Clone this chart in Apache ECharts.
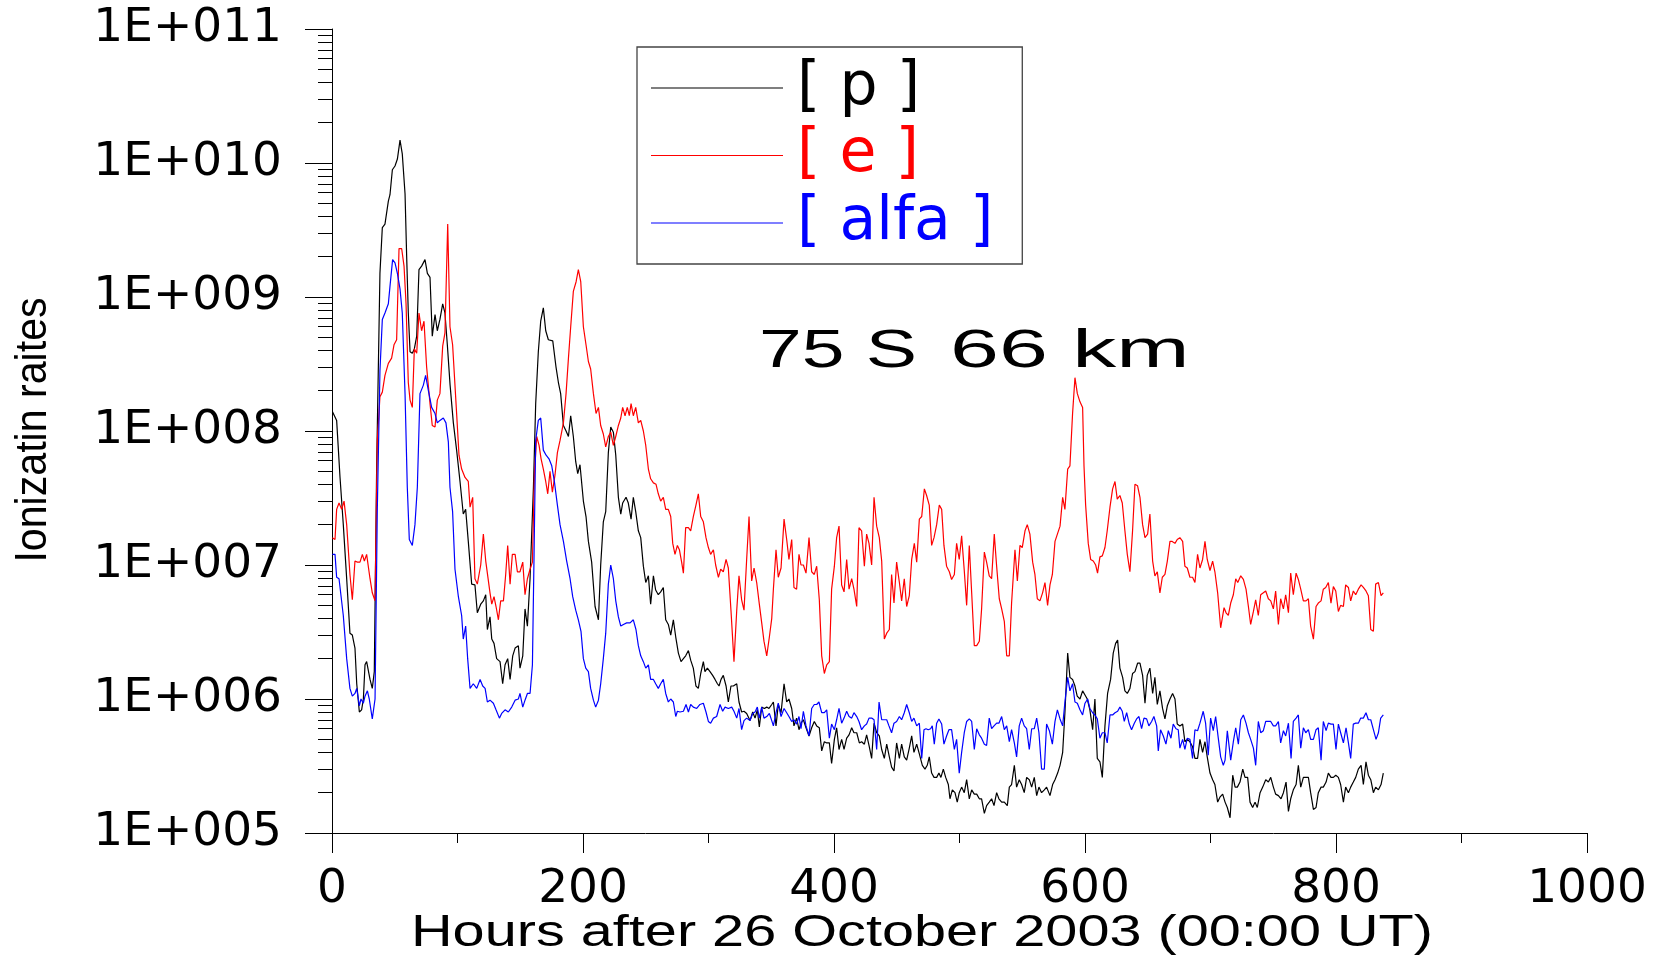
<!DOCTYPE html>
<html>
<head>
<meta charset="utf-8">
<title>Ionization rates, 75 S, 66 km</title>
<script src="https://cdn.jsdelivr.net/npm/echarts@6/dist/echarts.min.js"></script>
<style>
  html, body { margin: 0; padding: 0; background: #fff; }
  #chart { width: 1658px; height: 956px; }
</style>
</head>
<body>
<div id="chart"></div>
<script>
// Axis tick labels
const xTickLabels = ['0', '200', '400', '600', '800', '1000'];
const yTickLabels = ['1E+005', '1E+006', '1E+007', '1E+008', '1E+009', '1E+010', '1E+011'];
const seriesNames = ['[ p ]', '[ e ]', '[ alfa ]'];

// [hours after 26 Oct 2003 00:00 UT, ionization rate] for protons
const protonRates = [
  [0.3,1.4e8],[3.7,1.2e8],[6.4,4.5e7],[9,2.0e7],[11.7,7.9e6],[14.3,3.1e6],[16.2,3.0e6],[18.3,2.4e6],
  [19.7,1.3e6],[21.8,8.0e5],[23.6,8.3e5],[25,1.0e6],[26.3,1.8e6],[27.6,1.9e6],[30.3,1.4e6],[32.1,1.2e6],
  [33.7,1.6e6],[35.6,5.6e7],[38.2,1.5e9],[40.1,3.3e9],[42.2,3.5e9],[44.9,5.2e9],[46.2,5.8e9],[48.1,8.9e9],
  [50.2,9.5e9],[52.1,1.07e10],[54.2,1.48e10],[56,1.17e10],[58.2,5.9e9],[59.5,2.0e9],[60.8,7.6e8],[62.2,3.9e8],
  [64,3.8e8],[65.6,4.1e8],[67.5,5.1e8],[69.3,1.6e9],[71.4,1.7e9],[74.1,1.9e9],[76,1.5e9],[78.1,1.4e9],
  [79.9,5.1e8],[82.1,7.4e8],[83.9,5.6e8],[86,6.8e8],[88.2,8.9e8],[90,7.6e8],[91.9,4.4e8],[94.1,2.2e8],
  [96.7,1.15e8],[99.3,7.2e7],[102,4.2e7],[104.6,2.4e7],[106.5,2.6e7],[108.6,1.5e7],[111.3,7.2e6],[113.9,7.1e6],
  [115.8,4.4e6],[118.5,5.1e6],[120.6,5.4e6],[122.5,6.0e6],[123.8,3.3e6],[125.9,4.1e6],[127.3,2.8e6],[129.1,2.6e6],
  [131.2,2.0e6],[133.9,1.9e6],[136,1.3e6],[137.9,1.8e6],[140,2.0e6],[141.9,1.4e6],[144,2.1e6],[145.9,2.4e6],
  [148.5,2.5e6],[149.8,1.7e6],[152,2.1e6],[153.8,4.7e6],[155.7,3.5e6],[157.8,7.9e6],[160.5,3.8e7],[162.3,1.6e8],
  [164.4,3.9e8],[166.3,6.6e8],[168.4,8.3e8],[170.3,5.6e8],[172.4,4.8e8],[175.9,4.7e8],[178.5,3.0e8],[180.4,2.3e8],
  [182.2,1.9e8],[184.4,1.1e8],[186.5,1.0e8],[188.4,9.1e7],[190.2,1.3e8],[192.3,9.1e7],[194.2,5.9e7],[195.8,4.8e7],
  [197.6,5.6e7],[200.3,3.0e7],[202.4,2.3e7],[204.3,1.5e7],[206.9,1.05e7],[209.6,4.9e6],[212.3,3.9e6],[214.1,1.0e7],
  [216.2,2.1e7],[218.1,2.5e7],[220.2,6.9e7],[222.1,1.07e8],[224.2,9.8e7],[226.1,6.6e7],[228.2,3.2e7],[230.1,2.4e7],
  [231.6,2.9e7],[234.3,3.2e7],[236.1,2.9e7],[238.3,2.2e7],[240.1,3.2e7],[242,2.5e7],[244.1,1.8e7],[246,1.6e7],
  [248.1,9.8e6],[250,7.4e6],[252.1,8.3e6],[253.9,5.1e6],[256.1,8.3e6],[257.9,6.5e6],[260,6.0e6],[261.9,6.3e6],
  [264,6.8e6],[265.9,3.9e6],[268,3.6e6],[269.9,3.0e6],[272,3.9e6],[273.9,2.9e6],[276,2.2e6],[278.1,1.9e6],
  [280,2.0e6],[281.8,2.1e6],[284,2.3e6],[285.8,1.95e6],[287.9,1.7e6],[290,1.25e6],[291.9,1.2e6],[293.8,1.55e6],
  [295.9,1.9e6],[297.2,1.6e6],[299.1,1.7e6],[301.2,1.6e6],[303.3,1.5e6],[305.2,1.4e6],[307.1,1.3e6],[308.4,1.25e6],
  [310,1.4e6],[311.8,1.5e6],[314,1.25e6],[315.8,9.5e5],[317.9,1.25e6],[319.8,1.25e6],[322.5,1.3e6],[324.3,9.5e5],
  [326.4,8.0e5],[328.3,8.1e5],[330.4,7.8e5],[333.1,6.9e5],[335.2,8.0e5],[337.1,7.2e5],[338.9,8.3e5],[340.5,6.2e5],
  [342.4,8.7e5],[344.5,8.5e5],[346.4,8.7e5],[348.2,8.5e5],[350.4,9.1e5],[351.7,9.5e5],[353.8,6.3e5],[355.6,9.1e5],
  [357.8,7.9e5],[360.2,1.3e6],[362.3,9.5e5],[364.1,1.0e6],[366.3,8.5e5],[368.1,6.3e5],[370.2,7.2e5],[372.1,5.9e5],
  [373.7,6.6e5],[375.6,7.0e5],[377.7,6.1e5],[380.1,5.3e5],[382.2,6.1e5],[384.3,6.8e5],[386.2,6.3e5],[388.3,6.1e5],
  [390.2,4.1e5],[392.3,4.8e5],[394.2,4.7e5],[396.3,4.7e5],[398.1,3.3e5],[400.3,5.0e5],[402.1,6.1e5],[404,4.2e5],
  [406.1,5.0e5],[408,4.2e5],[410.1,5.1e5],[412,5.4e5],[414.1,6.1e5],[415.9,5.6e5],[418.1,5.6e5],[420.2,4.7e5],
  [422,4.8e5],[424.2,4.6e5],[426,5.4e5],[427.9,4.5e5],[430,3.6e5],[431.9,6.6e5],[434,5.6e5],[436.1,5.3e5],
  [438,4.2e5],[440.1,3.6e5],[442,4.6e5],[444.1,3.7e5],[445.9,3.1e5],[447.8,2.9e5],[449.9,4.7e5],[452.1,3.6e5],
  [453.9,4.6e5],[456,3.7e5],[457.9,3.5e5],[460,4.3e5],[461.9,5.3e5],[463.7,4.0e5],[465.9,4.6e5],[468,3.9e5],
  [470.4,3.2e5],[472.5,3.0e5],[474.3,3.2e5],[475.9,3.7e5],[477.8,2.8e5],[479.7,2.6e5],[481.8,2.6e5],[483.6,2.8e5],
  [485.2,2.6e5],[487.1,3.0e5],[489,2.6e5],[491.1,2.3e5],[492.4,1.8e5],[494.3,2.1e5],[496.4,2.0e5],[498.2,1.7e5],
  [499.8,2.0e5],[501.7,2.2e5],[503.8,2.0e5],[505.7,2.5e5],[507.8,1.8e5],[509.7,2.1e5],[511.8,1.95e5],[513.7,1.95e5],
  [515.8,1.8e5],[517.6,1.8e5],[519.8,1.4e5],[521.6,1.6e5],[523.7,1.7e5],[525.6,1.8e5],[527.5,1.6e5],[529.6,2.0e5],
  [531.4,1.8e5],[533.6,1.7e5],[535.7,1.7e5],[538.1,1.6e5],[539.7,2.2e5],[541.5,2.3e5],[543.7,3.2e5],[545.5,2.2e5],
  [547.6,2.5e5],[549.5,2.3e5],[551.6,2.0e5],[553.5,2.6e5],[555.6,2.5e5],[557.5,2.2e5],[559.6,2.6e5],[561.5,1.9e5],
  [563.3,2.2e5],[565.4,2.0e5],[567.6,2.1e5],[569.4,2.2e5],[572.1,1.9e5],[574.2,2.3e5],[576.1,2.5e5],[578.2,2.8e5],
  [580.1,3.2e5],[582.2,4.0e5],[584,7.9e5],[586.2,2.2e6],[588,1.45e6],[590.1,1.4e6],[592,1.25e6],[593.8,1.05e6],
  [596,1.0e6],[598.1,1.15e6],[600,1.07e6],[601.8,1.0e6],[603.9,8.3e5],[606.1,5.9e5],[607.9,1.0e6],[609.8,3.6e5],
  [611.9,3.4e5],[613.8,2.6e5],[615.9,6.3e5],[618,1.1e6],[620.4,1.4e6],[622.5,2.2e6],[624.4,2.6e6],[626,2.75e6],
  [627.8,1.7e6],[630,1.45e6],[631.8,1.15e6],[633.7,1.1e6],[635.8,1.2e6],[637.9,1.55e6],[639.8,1.6e6],[641.9,1.85e6],
  [643.8,1.85e6],[645.9,1.5e6],[647.8,9.3e5],[649.6,1.5e6],[651.7,1.7e6],[653.9,1.1e6],[655.7,1.45e6],[657.6,9.1e5],
  [659.7,1.15e6],[661.8,8.5e5],[663.7,7.1e5],[665.6,8.9e5],[667.7,1.0e6],[669.8,1.1e6],[671.7,1.0e6],[673.5,6.5e5],
  [675.6,6.3e5],[677.8,6.5e5],[679.6,4.8e5],[681.5,5.0e5],[683.6,4.8e5],[685.7,4.4e5],[687.6,3.6e5],[689.7,3.6e5],
  [691.6,5.0e5],[693.7,4.0e5],[695.6,4.8e5],[697.4,3.7e5],[699.6,2.8e5],[701.7,2.5e5],[703.5,2.3e5],[705.7,1.7e5],
  [707.5,1.85e5],[709.7,1.95e5],[711.6,1.7e5],[713.4,1.55e5],[715.6,1.3e5],[717.7,2.7e5],[719.6,2.2e5],[721.4,2.2e5],
  [723.5,2.4e5],[725.7,3.0e5],[727.5,2.6e5],[729.6,2.6e5],[731.5,1.7e5],[733.6,1.55e5],[735.5,1.7e5],[737.3,1.55e5],
  [739.5,2.0e5],[741.6,2.2e5],[744,2.5e5],[746.1,2.4e5],[748,2.6e5],[750.1,2.2e5],[751.9,1.95e5],[754.1,1.9e5],
  [756.2,1.8e5],[758.1,2.0e5],[760.2,2.4e5],[762.1,1.45e5],[763.9,1.8e5],[766,2.1e5],[768.2,2.3e5],[770,3.2e5],
  [771.9,2.2e5],[774,2.6e5],[775.9,2.6e5],[778,2.6e5],[779.8,2.0e5],[782,1.5e5],[784.1,1.55e5],[785.9,2.0e5],
  [788.1,2.2e5],[789.9,2.2e5],[792.1,2.4e5],[793.9,2.8e5],[796,2.6e5],[797.9,2.6e5],[799.8,2.7e5],[801.9,2.6e5],
  [803.7,2.3e5],[805.9,1.7e5],[807.7,2.2e5],[809.9,2.0e5],[811.7,2.2e5],[813.8,2.4e5],[815.7,2.6e5],[817.8,3.0e5],
  [820,3.2e5],[821.8,2.3e5],[823.9,3.4e5],[825.8,2.7e5],[827.7,2.5e5],[829.8,2.0e5],[831.6,2.2e5],[833.8,2.1e5],
  [835.9,2.3e5],[837.7,2.8e5]
];

// Electrons
const electronRates = [
  [0.3,1.6e7],[2.4,1.55e7],[3.7,2.6e7],[5.6,2.9e7],[7.7,2.6e7],[9.6,3.0e7],[11.7,2.0e7],[14.3,8.5e6],
  [16.2,5.5e6],[18.3,1.07e7],[20.2,1.05e7],[22.3,1.05e7],[24.2,1.2e7],[25.8,1.07e7],[27.6,1.2e7],[30.3,7.9e6],
  [32.1,6.2e6],[34.3,5.4e6],[36.1,8.5e7],[38.2,1.8e8],[40.1,1.95e8],[42.2,2.6e8],[44.9,3.2e8],[47.5,3.5e8],
  [49.4,4.4e8],[51.5,4.8e8],[53.4,2.3e9],[55.5,2.3e9],[57.4,1.7e9],[59,8.9e8],[60.8,2.3e8],[62.2,1.7e8],
  [64,1.5e8],[65.6,4.1e8],[67.5,3.8e8],[69.3,7.6e8],[71.4,5.6e8],[73.3,6.6e8],[75.4,3.0e8],[78.1,1.6e8],
  [79.9,1.1e8],[82.1,1.07e8],[83.9,1.7e8],[86,1.9e8],[88.2,4.3e8],[90,5.4e8],[92.2,3.5e9],[94,6.0e8],
  [96.1,4.4e8],[99.3,1.35e8],[101.2,6.6e7],[103.3,5.2e7],[106,4.5e7],[108.6,4.2e7],[110,2.7e7],[112.1,3.2e7],
  [113.9,7.9e6],[115.8,7.2e6],[118.5,1.0e7],[120.6,1.7e7],[122.5,1.07e7],[125.9,6.2e6],[127.3,5.1e6],[129.1,5.8e6],
  [130.7,4.9e6],[132.6,3.9e6],[134.4,5.4e6],[136.6,5.4e6],[138.4,8.5e6],[140,1.4e7],[141.9,7.2e6],[143.7,1.2e7],
  [145.9,1.2e7],[147.7,8.9e6],[149.8,8.9e6],[152,1.05e7],[153.8,6.0e6],[155.7,7.9e6],[157.8,9.3e6],[159.7,1.05e7],
  [161.3,4.8e7],[163.1,9.1e7],[165,7.8e7],[166.6,6.2e7],[168.4,5.2e7],[170.3,4.2e7],[171.9,3.4e7],[173.7,5.0e7],
  [175.6,3.5e7],[177.7,4.7e7],[179.6,6.9e7],[181.7,8.5e7],[184.4,1.15e8],[186.5,1.9e8],[188.4,3.5e8],[190.2,6.0e8],
  [192.3,1.1e9],[194.5,1.3e9],[196.3,1.6e9],[198.2,1.3e9],[200.3,6.0e8],[202.4,4.4e8],[204.3,3.3e8],[206.1,2.9e8],
  [208.3,1.9e8],[210.4,1.35e8],[212.3,1.5e8],[214.1,1.1e8],[216.2,9.5e7],[218.1,7.6e7],[220.2,9.1e7],[222.1,9.8e7],
  [224.2,7.8e7],[226.1,9.1e7],[228.2,1.1e8],[230.1,1.25e8],[231.6,1.5e8],[233.5,1.3e8],[235.3,1.5e8],[236.9,1.3e8],
  [238.3,1.6e8],[240.1,1.3e8],[242,1.5e8],[244.1,1.15e8],[246,1.2e8],[248.1,1.0e8],[250,7.8e7],[252.1,5.2e7],
  [253.9,4.4e7],[256.1,4.1e7],[258.2,4.0e7],[260,3.4e7],[261.9,3.0e7],[264,3.2e7],[265.9,2.6e7],[268,2.6e7],
  [269.9,2.3e7],[271.5,1.45e7],[273.3,1.2e7],[275.2,1.4e7],[276.8,1.3e7],[278.6,1.05e7],[280,8.7e6],[281.8,1.9e7],
  [284,1.9e7],[285.8,1.8e7],[287.9,2.3e7],[290,2.8e7],[291.9,3.4e7],[293.8,2.3e7],[295.9,2.1e7],[298,1.6e7],
  [299.9,1.35e7],[301.7,1.2e7],[303.9,1.3e7],[305.7,1.0e7],[307.9,8.1e6],[309.7,9.3e6],[311.8,8.9e6],[314,1.1e7],
  [315.8,9.5e6],[317.9,4.6e6],[320.3,1.9e6],[322.5,4.6e6],[324.3,8.3e6],[326.4,5.5e6],[328.3,4.6e6],[330.4,1.1e7],
  [332.3,2.3e7],[334.4,7.6e6],[336.3,9.5e6],[338.4,7.4e6],[340.5,5.1e6],[342.4,3.7e6],[344.2,2.7e6],[346.4,2.1e6],
  [348.5,2.9e6],[350.4,4.0e6],[351.7,6.6e6],[353.8,1.3e7],[355.6,8.1e6],[357.8,9.5e6],[360.2,2.2e7],[362.3,1.55e7],
  [364.1,1.1e7],[366.3,1.55e7],[368.1,6.8e6],[370.2,6.6e6],[372.1,1.2e7],[373.7,1.0e7],[375.6,1.0e7],[377.7,8.7e6],
  [380.1,1.6e7],[382.2,8.9e6],[384.3,8.5e6],[386.2,9.8e6],[388.3,5.5e6],[390.2,2.1e6],[392.3,1.55e6],[394.2,1.8e6],
  [396.3,1.9e6],[398.1,6.6e6],[400.3,9.8e6],[402.1,1.6e7],[404,1.95e7],[406.1,7.1e6],[408,6.3e6],[410.1,1.1e7],
  [412,6.6e6],[414.1,7.9e6],[415.9,6.6e6],[418.1,4.9e6],[419.9,1.9e7],[422,1.8e7],[424.2,9.8e6],[426,1.7e7],
  [427.9,1.45e7],[430,1.0e7],[431.9,3.2e7],[434,1.95e7],[436.1,1.6e7],[438,1.07e7],[440.1,2.8e6],[442,3.1e6],
  [444.1,3.3e6],[445.9,8.5e6],[447.8,5.2e6],[449.9,1.05e7],[452.1,7.4e6],[453.9,5.4e6],[456,7.9e6],[457.9,4.9e6],
  [460,5.9e6],[461.9,1.1e7],[464,1.45e7],[465.9,1.05e7],[468,2.2e7],[469.9,2.3e7],[472,3.7e7],[473.8,3.3e7],
  [475.9,2.8e7],[477.8,1.4e7],[479.7,1.6e7],[481.8,2.0e7],[483.9,2.8e7],[485.8,2.6e7],[487.6,1.4e7],[489.7,9.8e6],
  [491.9,8.9e6],[493.7,7.8e6],[495.9,8.5e6],[497.7,1.45e7],[499.8,1.1e7],[501.7,1.65e7],[503.8,9.1e6],[505.7,5.0e6],
  [507.8,1.4e7],[509.7,6.2e6],[511.8,2.5e6],[513.7,2.5e6],[515.8,2.7e6],[517.6,4.7e6],[519.8,1.25e7],[521.6,1.05e7],
  [523.7,8.3e6],[525.6,7.9e6],[527.7,1.7e7],[529.6,9.8e6],[531.7,5.6e6],[533.6,4.7e6],[535.7,3.8e6],[537.6,2.1e6],
  [539.7,2.1e6],[541.5,5.2e6],[544.2,1.3e7],[546.1,7.6e6],[548.2,1.4e7],[550,1.35e7],[552.2,1.8e7],[554,2.0e7],
  [556.1,1.7e7],[558.3,1.05e7],[560.1,8.5e6],[562,5.6e6],[564.1,5.4e6],[566.2,6.2e6],[568.1,7.4e6],[570.2,5.0e6],
  [572.1,7.1e6],[574,8.5e6],[576.1,1.5e7],[578,1.7e7],[580.1,1.95e7],[582.2,3.2e7],[584,2.6e7],[586.2,5.2e7],
  [588,5.5e7],[590.1,1.35e8],[592,2.5e8],[593.9,1.9e8],[596,1.65e8],[598.1,1.5e8],[599.2,5.5e7],[600.5,2.8e7],
  [602.6,1.45e7],[604.5,1.1e7],[606.6,1.07e7],[608.5,1.0e7],[610,8.7e6],[611.9,1.15e7],[613.8,1.17e7],[615.9,1.35e7],
  [617.7,1.8e7],[619.9,2.7e7],[622,3.7e7],[623.9,4.2e7],[625.7,3.1e7],[627.8,3.3e7],[629.7,2.9e7],[631.8,1.8e7],
  [633.7,1.2e7],[635.8,8.9e6],[637.9,1.8e7],[639.8,4.0e7],[641.9,3.9e7],[643.8,3.2e7],[645.9,2.0e7],[647.8,1.6e7],
  [649.9,1.7e7],[651.7,2.4e7],[653.9,1.07e7],[655.7,8.3e6],[657.6,8.9e6],[659.7,6.2e6],[661.6,8.1e6],[663.7,8.5e6],
  [665.6,1.07e7],[667.7,1.5e7],[669.5,1.5e7],[671.7,1.45e7],[673.5,1.55e7],[675.6,1.6e7],[677.8,1.5e7],[679.6,9.8e6],
  [681.5,9.5e6],[683.6,8.1e6],[685.7,8.1e6],[687.6,7.4e6],[689.7,1.2e7],[691.6,9.5e6],[693.7,1.1e7],[695.6,1.5e7],
  [697.4,1.1e7],[699.6,9.1e6],[701.7,1.07e7],[703.5,8.9e6],[705.7,6.2e6],[708.1,3.4e6],[710.8,4.8e6],[712.4,4.4e6],
  [714.2,4.2e6],[716.1,5.2e6],[718.2,6.0e6],[720.1,7.9e6],[721.7,7.4e6],[724.1,8.3e6],[726.2,7.8e6],[728.3,6.6e6],
  [730.2,4.9e6],[732,3.6e6],[734.2,4.5e6],[736,5.5e6],[738.1,4.2e6],[740,6.0e6],[742.1,6.2e6],[744,6.4e6],
  [746.1,5.6e6],[748,5.4e6],[750.1,4.7e6],[751.9,6.4e6],[754.1,3.6e6],[755.9,5.6e6],[758.1,4.7e6],[759.9,6.0e6],
  [762.1,4.4e6],[763.9,8.7e6],[766,6.0e6],[768.2,8.7e6],[770,7.8e6],[771.9,6.6e6],[774,5.4e6],[776.1,5.4e6],
  [778,5.6e6],[779.8,3.5e6],[782,2.8e6],[784.1,4.9e6],[785.9,5.2e6],[788.1,5.4e6],[789.9,6.6e6],[791.8,6.8e6],
  [793.9,7.4e6],[796,5.2e6],[797.9,6.9e6],[799.8,6.4e6],[801.9,4.5e6],[803.7,5.0e6],[805.9,4.9e6],[807.7,7.1e6],
  [809.9,6.8e6],[811.7,5.4e6],[813.8,6.4e6],[815.7,6.0e6],[817.8,6.6e6],[820,7.1e6],[821.8,6.8e6],[823.9,6.4e6],
  [825.8,5.9e6],[827.7,3.3e6],[829.8,3.2e6],[831.6,7.2e6],[833.8,7.4e6],[835.9,5.9e6],[837.7,6.2e6]
];

// Alpha particles
const alfaRates = [
  [0.3,1.2e7],[2.4,1.2e7],[3.7,8.1e6],[5.6,7.9e6],[6.9,8.1e6],[9,4.2e6],[11.7,2.0e6],[14.3,1.2e6],
  [16.2,1.05e6],[18.3,1.1e6],[19.7,1.2e6],[21.8,8.9e5],[23.1,1.0e6],[25,9.3e5],[26.3,1.05e6],[28.2,1.15e6],
  [29.7,1.0e6],[32.1,7.1e5],[34.3,1.0e6],[36.1,2.6e7],[38.2,2.8e8],[40.1,6.8e8],[42.2,7.6e8],[44.9,8.9e8],
  [46.2,1.2e9],[48.3,1.9e9],[50.2,1.8e9],[52.1,1.5e9],[54.2,1.15e9],[56,7.6e8],[58.2,1.9e8],[60,3.8e7],
  [61.6,1.55e7],[64,1.4e7],[66.1,2.0e7],[68,3.8e7],[70.1,1.9e8],[72.8,2.2e8],[74.6,2.6e8],[76.8,2.0e8],
  [79.4,1.5e8],[82.1,1.35e8],[83.9,1.15e8],[86,1.2e8],[88.7,1.25e8],[90.8,1.15e8],[92.7,8.3e7],[94,3.8e7],
  [96.1,2.5e7],[98,9.3e6],[100.7,5.8e6],[103.3,4.2e6],[104.6,2.8e6],[106.5,3.5e6],[108.1,2.0e6],[110,1.2e6],
  [112.6,1.3e6],[115.3,1.2e6],[118,1.4e6],[120.1,1.25e6],[122,1.2e6],[123.8,9.5e5],[125.9,9.8e5],[128.6,9.3e5],
  [130.7,8.3e5],[133.4,7.2e5],[135.2,7.8e5],[137.9,8.3e5],[140.5,8.0e5],[143.2,8.7e5],[145.9,9.8e5],[148.5,1.0e6],
  [149.8,1.1e6],[152,8.7e5],[153.8,9.8e5],[155.7,1.1e6],[157.8,1.1e6],[159.7,1.8e6],[161,1.2e7],[162.3,8.5e7],
  [164.4,1.2e8],[166.3,1.25e8],[168.4,7.2e7],[170.6,6.6e7],[172.9,6.2e7],[175.1,5.5e7],[177.2,4.2e7],[179.6,2.8e7],
  [181.7,2.0e7],[184.4,1.5e7],[187,1.07e7],[189.7,7.9e6],[191.8,5.8e6],[194.2,4.6e6],[196.3,3.9e6],[198.4,3.2e6],
  [200.3,2.0e6],[202.2,1.7e6],[204.3,1.6e6],[206.1,1.2e6],[208.3,9.8e5],[210.1,8.7e5],[212.3,9.8e5],[214.1,1.3e6],
  [216.2,2.0e6],[218.1,3.1e6],[220.2,7.2e6],[222.1,1.0e7],[224.2,7.9e6],[226.1,5.4e6],[228.2,4.1e6],[230.1,3.5e6],
  [232.2,3.6e6],[234.8,3.7e6],[237.5,3.7e6],[240.1,3.9e6],[242.2,3.3e6],[244.1,2.5e6],[246,2.1e6],[248.1,1.9e6],
  [250,1.7e6],[252.1,1.8e6],[253.9,1.4e6],[256.1,1.4e6],[257.9,1.3e6],[260,1.2e6],[261.9,1.3e6],[264,1.4e6],
  [265.9,1.1e6],[268,9.5e5],[269.9,1.0e6],[272,9.5e5],[273.9,7.4e5],[275.2,8.1e5],[277.3,8.0e5],[280,8.1e5],
  [282.1,9.1e5],[284,8.0e5],[285.8,9.1e5],[287.9,8.7e5],[290.6,8.5e5],[293.2,9.1e5],[295.9,9.3e5],[298,8.0e5],
  [299.9,6.8e5],[301.7,6.6e5],[303.9,7.2e5],[306.5,7.4e5],[309.2,9.1e5],[311.3,8.1e5],[313.2,8.7e5],[315.8,8.5e5],
  [318.5,8.7e5],[320.3,8.1e5],[322.5,7.2e5],[324.3,8.5e5],[326.4,5.9e5],[328.3,6.9e5],[330.4,7.2e5],[333.1,6.9e5],
  [335.2,7.8e5],[337.1,8.0e5],[338.9,8.7e5],[340.5,7.2e5],[342.4,8.7e5],[344.2,7.2e5],[346.4,7.4e5],[348.5,7.8e5],
  [350.4,6.9e5],[351.7,6.3e5],[353.8,7.9e5],[355.6,9.3e5],[357.8,7.4e5],[360.2,8.5e5],[362.3,7.9e5],[364.1,7.4e5],
  [366.3,6.8e5],[368.1,7.0e5],[370.2,6.5e5],[372.1,7.4e5],[373.7,6.0e5],[375.6,8.1e5],[377.7,6.3e5],[380.1,5.3e5],
  [382.2,8.5e5],[384.3,9.1e5],[386.2,9.1e5],[388,9.5e5],[390.2,7.9e5],[392.3,7.9e5],[394.2,8.3e5],[396.3,5.1e5],
  [398.1,6.5e5],[400.3,5.9e5],[402.1,7.0e5],[404,8.5e5],[406.1,6.6e5],[408,7.2e5],[410.1,8.1e5],[412,7.4e5],
  [414.1,7.2e5],[415.9,7.9e5],[418.1,7.4e5],[419.9,6.8e5],[422,5.9e5],[424.2,6.3e5],[426,6.5e5],[427.9,7.2e5],
  [430,7.2e5],[431.9,7.0e5],[434,4.2e5],[435.9,9.5e5],[438,7.0e5],[439.8,7.0e5],[442,7.0e5],[443.8,6.3e5],
  [445.9,5.6e5],[447.8,6.6e5],[449.9,6.8e5],[452.1,7.4e5],[453.9,7.0e5],[456,7.9e5],[457.9,9.1e5],[460,7.9e5],
  [461.9,6.8e5],[463.7,7.2e5],[465.9,6.3e5],[468,6.6e5],[469.9,3.6e5],[471.7,5.9e5],[473.3,6.0e5],[475.1,5.9e5],
  [477,6.0e5],[478.3,6.3e5],[479.9,4.6e5],[481.8,6.6e5],[483.6,7.1e5],[485.8,6.5e5],[487.6,4.6e5],[489.7,5.3e5],
  [491.6,5.9e5],[493.7,5.9e5],[495.9,4.2e5],[497.7,5.0e5],[499.8,2.8e5],[501.7,4.0e5],[503.8,5.6e5],[505.7,6.8e5],
  [507.8,7.1e5],[509.7,6.8e5],[511.8,4.2e5],[513.7,6.0e5],[515.8,5.4e5],[517.6,5.1e5],[519.8,4.6e5],[521.6,4.5e5],
  [523.7,7.2e5],[525.6,6.0e5],[527.5,6.3e5],[529.6,6.6e5],[531.4,6.6e5],[533.6,7.4e5],[535.7,5.9e5],[537.6,6.3e5],
  [539.7,4.8e5],[541.5,5.9e5],[543.7,4.7e5],[545.5,3.7e5],[547.6,6.3e5],[549.5,7.2e5],[551.6,6.3e5],[553.5,6.0e5],
  [555.6,4.2e5],[557.5,6.0e5],[559.6,6.0e5],[561.5,7.2e5],[563.3,5.6e5],[565.4,3.0e5],[567.6,3.0e5],[569.4,6.5e5],
  [571.6,5.8e5],[574,4.6e5],[576.1,6.8e5],[578,8.3e5],[580.1,7.1e5],[582.2,6.3e5],[584,9.5e5],[586.2,1.45e6],
  [588,1.15e6],[590.1,1.3e6],[592,9.5e5],[593.9,9.3e5],[596,8.3e5],[598.1,7.6e5],[600,9.3e5],[602.1,1.0e6],
  [603.9,8.5e5],[606.1,7.9e5],[607.9,7.6e5],[609.8,7.1e5],[611.9,5.1e5],[613.8,5.6e5],[615.9,5.6e5],[617.7,4.7e5],
  [619.9,7.6e5],[622,7.6e5],[623.9,7.9e5],[626,8.1e5],[627.8,8.7e5],[629.7,8.1e5],[631.3,6.8e5],[633.2,7.9e5],
  [635.3,6.5e5],[637.1,5.9e5],[639.3,6.6e5],[641.1,7.1e5],[643,7.4e5],[645.1,6.0e5],[647,7.2e5],[649.1,7.1e5],
  [650.9,6.3e5],[653.1,6.8e5],[654.9,7.4e5],[657.1,6.3e5],[658.4,4.1e5],[660.2,5.9e5],[662.4,5.3e5],[664.5,4.6e5],
  [666.4,5.8e5],[668.5,5.1e5],[670.3,6.5e5],[672.5,6.0e5],[674.3,5.9e5],[675.6,4.3e5],[677.8,5.0e5],[679.6,4.2e5],
  [681.5,5.1e5],[683.6,5.0e5],[685.7,3.6e5],[687.6,5.9e5],[689.7,5.8e5],[691.6,6.6e5],[694.2,8.1e5],[696.1,6.6e5],
  [698.2,3.8e5],[700.1,7.2e5],[702.2,5.8e5],[704.1,7.4e5],[706.2,5.1e5],[708.1,3.7e5],[710.2,3.2e5],[711.6,3.5e5],
  [713.4,5.8e5],[716.1,3.5e5],[718.2,4.8e5],[720.1,6.1e5],[722.2,4.6e5],[724.1,7.0e5],[726.2,7.6e5],[728.3,6.6e5],
  [730.2,5.6e5],[732,5.0e5],[734.2,4.3e5],[736,3.2e5],[738.1,6.8e5],[740,5.6e5],[742.1,5.8e5],[744,6.8e5],
  [746.1,6.8e5],[748,6.8e5],[750.1,6.3e5],[751.9,6.3e5],[754.1,6.8e5],[755.9,4.7e5],[758.1,5.8e5],[759.9,5.3e5],
  [762.1,6.6e5],[764.2,3.6e5],[766,6.8e5],[768.2,7.2e5],[770,7.6e5],[771.9,4.3e5],[774,6.1e5],[775.9,5.6e5],
  [778,5.9e5],[779.8,5.0e5],[782,5.0e5],[784.1,5.9e5],[785.9,6.1e5],[788.1,3.5e5],[789.9,6.8e5],[792.1,5.8e5],
  [793.9,6.6e5],[796,6.5e5],[797.9,6.5e5],[800,4.2e5],[801.9,6.5e5],[803.7,5.6e5],[805.9,4.7e5],[808,6.1e5],
  [809.9,4.7e5],[811.7,3.6e5],[813.8,6.5e5],[815.7,6.6e5],[817.8,6.6e5],[819.7,7.2e5],[821.8,7.2e5],[823.9,7.9e5],
  [825.8,7.0e5],[827.7,7.0e5],[829.8,5.9e5],[831.9,5.0e5],[833.8,5.6e5],[835.6,7.2e5],[837.7,7.6e5]
];

const seriesData = [protonRates, electronRates, alfaRates];
const seriesColors = ['#000000', '#ff0000', '#0000ff'];

// Decade sub-ticks (2..9 x 10^n), placed on a linear helper axis in log10 units
const minorLogTicks = [];
for (let d = 5; d < 11; d++) {
  for (let m = 2; m <= 9; m++) minorLogTicks.push(d + Math.log10(m));
}

const textStyleBase = { fill: '#000', fontFamily: 'Liberation Sans', verticalAlign: 'middle' };

const chart = echarts.init(document.getElementById('chart'));

chart.setOption({
  animation: false,
  backgroundColor: '#ffffff',
  grid: { left: 332, right: 71, top: 29, bottom: 123, containLabel: false, outerBoundsMode: 'none' },
  xAxis: {
    type: 'value',
    min: 0,
    max: 1000,
    interval: 200,
    axisLine: { show: true, lineStyle: { color: '#000', width: 1 } },
    axisTick: { show: true, length: 20, lineStyle: { color: '#000', width: 1 } },
    minorTick: { show: true, splitNumber: 2, length: 10, lineStyle: { color: '#000', width: 1 } },
    splitLine: { show: false },
    minorSplitLine: { show: false },
    axisLabel: {
      margin: 33,
      fontSize: 47,
      fontFamily: 'DejaVu Sans',
      color: '#000',
      formatter: (v) => xTickLabels[Math.round(v / 200)]
    }
  },
  yAxis: [
    {
      type: 'log',
      logBase: 10,
      min: 1e5,
      max: 1e11,
      splitNumber: 6,
      axisLine: { show: true, lineStyle: { color: '#000', width: 1 } },
      axisTick: { show: true, length: 27, lineStyle: { color: '#000', width: 1 } },
      splitLine: { show: false },
      axisLabel: {
        margin: 50,
        fontSize: 47,
        fontFamily: 'DejaVu Sans',
        color: '#000',
        formatter: (v) => yTickLabels[Math.round(Math.log10(v)) - 5]
      }
    },
    {
      type: 'value',
      min: 5,
      max: 11,
      position: 'left',
      axisLine: { show: false },
      axisLabel: { show: false },
      splitLine: { show: false },
      axisTick: { show: true, length: 14, customValues: minorLogTicks, lineStyle: { color: '#000', width: 1 } }
    }
  ],
  legend: {
    orient: 'vertical',
    left: 637,
    top: 47,
    padding: [0, 29, 0, 14],
    icon: 'rect',
    itemWidth: 132,
    itemHeight: 1.2,
    itemGap: -14.5,
    borderColor: '#444',
    borderWidth: 1.3,
    backgroundColor: '#fff',
    selectedMode: false,
    textStyle: { fontSize: 60, fontFamily: 'DejaVu Sans', lineHeight: 60, padding: [22, 0, 0, 9] },
    data: seriesNames.map((n, i) => ({ name: n, textStyle: { color: seriesColors[i] } }))
  },
  graphic: [
    {
      type: 'text', x: 922, y: 934, scaleX: 1.31,
      style: Object.assign({ text: 'Hours after 26 October 2003 (00:00 UT)', fontSize: 44, align: 'center' }, textStyleBase)
    },
    {
      type: 'text', x: 34, y: 430, rotation: Math.PI / 2, scaleX: 0.914,
      style: Object.assign({ text: 'Ionizatin raites', fontSize: 45, align: 'center' }, textStyleBase)
    },
    {
      type: 'text', x: 759, y: 352, scaleX: 1.45,
      style: Object.assign({ text: '75 S', fontSize: 53, align: 'left' }, textStyleBase)
    },
    {
      type: 'text', x: 950, y: 352, scaleX: 1.66,
      style: Object.assign({ text: '66 km', fontSize: 53, align: 'left' }, textStyleBase)
    }
  ],
  series: seriesNames.map((n, i) => ({
    name: n,
    type: 'line',
    data: seriesData[i],
    symbol: 'none',
    showSymbol: false,
    smooth: false,
    lineStyle: { color: seriesColors[i], width: 1.2 },
    itemStyle: { color: seriesColors[i] },
    emphasis: { disabled: true }
  }))
});
</script>
</body>
</html>
